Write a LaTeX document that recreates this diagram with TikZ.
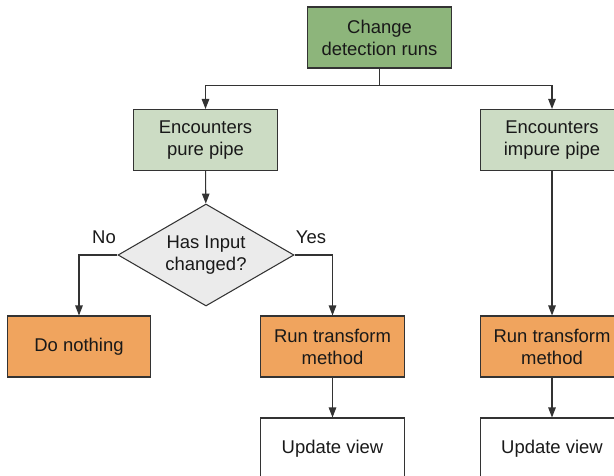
\documentclass[tikz,border=0pt]{standalone}
\usepackage{fontspec}
\setmainfont{Liberation Sans}
\usetikzlibrary{arrows.meta,positioning,shapes.geometric}

\definecolor{darkgrn}{HTML}{8DB57B}
\definecolor{lightgrn}{HTML}{CCDCC4}
\definecolor{orng}{HTML}{F0A45E}
\definecolor{dmdgray}{HTML}{EBEBEB}
\definecolor{ink}{HTML}{333333}

\begin{document}
\begin{tikzpicture}[
    step box/.style={rectangle, draw=ink, line width=0.6pt,
                 minimum width=2.87cm, minimum height=1.22cm,
                 align=center, text=black!90,
                 font=\fontsize{10.5}{12.5}\selectfont},
    startb/.style={step box, fill=darkgrn},
    pipeb/.style={step box, fill=lightgrn},
    actb/.style={step box, fill=orng},
    viewb/.style={step box, fill=white},
    test/.style={diamond, aspect=1.7, draw=ink, line width=0.6pt, fill=dmdgray,
                 minimum width=3.52cm, minimum height=2.04cm, inner sep=0pt,
                 align=center, text=black!90,
                 font=\fontsize{10.5}{12.5}\selectfont},
    lbl/.style={font=\fontsize{10.5}{12.5}\selectfont, text=black!90},
    arr/.style={-{Triangle[length=2mm,width=1.5mm]}, draw=ink, line width=0.6pt},
]
\useasboundingbox (0,0) rectangle (12.28,-9.5);

% change detection start
\node[startb] (cd) at (7.59,-0.75) {Change\\detection runs};

% pipes
\node[pipeb] (pure) at (4.11,-2.8) {Encounters\\pure pipe};
\node[pipeb] (impure) at (11.04,-2.8) {Encounters\\impure pipe};

% input check
\node[test] (chk) at (4.12,-5.1) {Has Input\\changed?};
\node[lbl] (no) at (2.08,-4.74) {No};
\node[lbl] (yes) at (6.22,-4.74) {Yes};

% actions
\node[actb] (noop) at (1.58,-6.93) {Do nothing};
\node[actb] (run1) at (6.65,-6.93) {Run transform\\method};
\node[actb] (run2) at (11.04,-6.93) {Run transform\\method};

% view updates
\node[viewb] (upd1) at (6.65,-8.97) {Update view};
\node[viewb] (upd2) at (11.04,-8.97) {Update view};

\draw[arr] (cd.south) -- ++(0,-0.33) -| (pure.north);
\draw[arr] (cd.south) -- ++(0,-0.33) -| (impure.north);
\draw[arr] (pure) -- (chk);
\draw[arr] (chk.west) -| (noop.north);
\draw[arr] (chk.east) -| (run1.north);
\draw[arr] (impure) -- (run2);
\draw[arr] (run1) -- (upd1);
\draw[arr] (run2) -- (upd2);

\end{tikzpicture}
\end{document}
